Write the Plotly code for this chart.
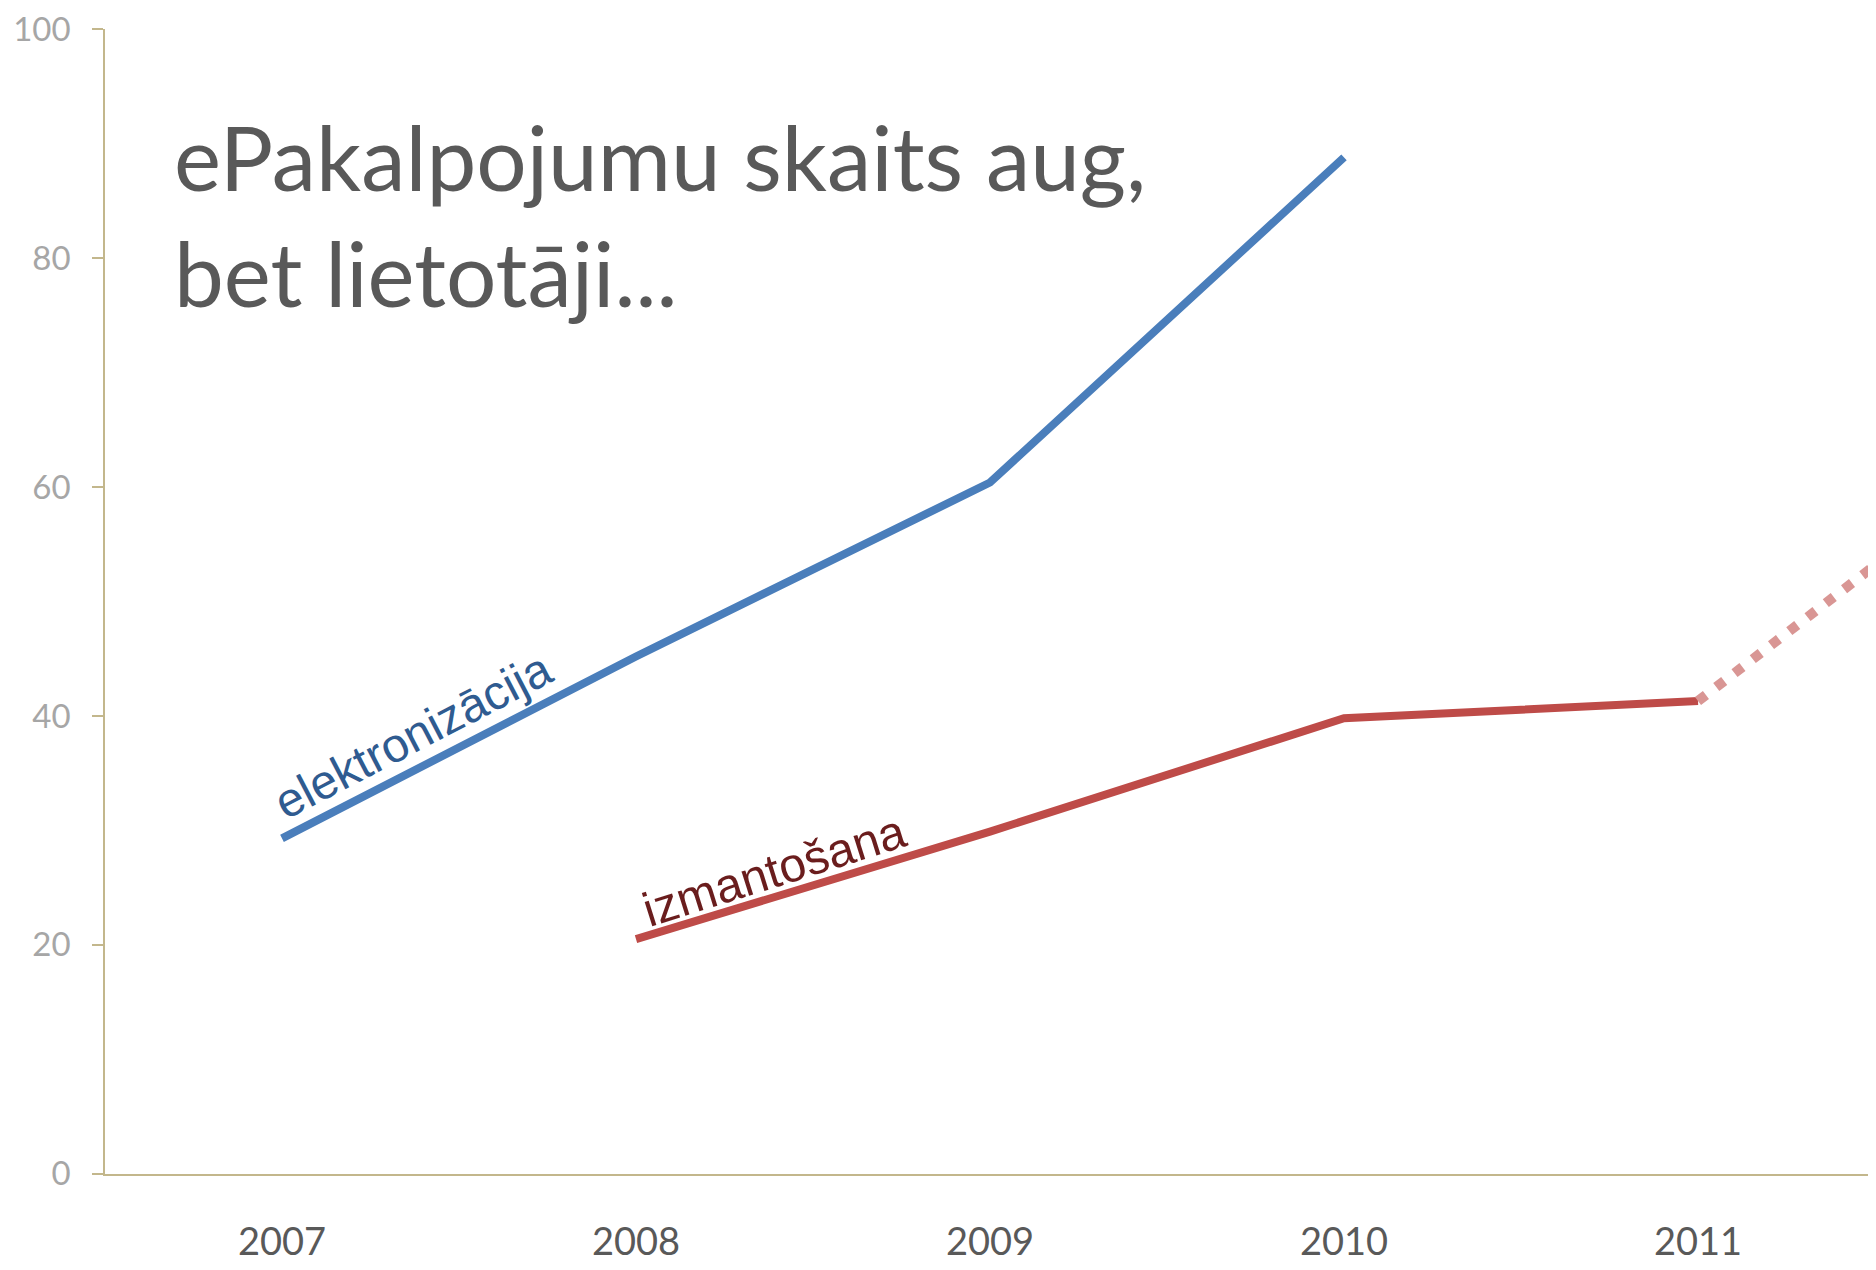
import plotly.graph_objects as go

years = [2007, 2008, 2009, 2010, 2011]
elektronizacija = [29.3, 45.2, 60.4, 88.8, None]
izmantosana = [None, 20.5, 29.9, 39.8, 41.3]
proj_years = [2011, 2012]
proj_values = [41.3, 65.0]
y_ticks = [0, 20, 40, 60, 80, 100]

title_text = "ePakalpojumu skaits aug,<br>bet lietotāji..."
label_blue = "elektronizācija"
label_red = "izmantošana"

axis_color = "#C3B78C"

fig = go.Figure()
fig.add_trace(go.Scatter(x=years, y=elektronizacija, mode="lines",
                         line=dict(color="#4A7EBB", width=8), hoverinfo="skip"))
fig.add_trace(go.Scatter(x=years, y=izmantosana, mode="lines",
                         line=dict(color="#BE4B48", width=8), hoverinfo="skip"))
fig.add_trace(go.Scatter(x=proj_years, y=proj_values, mode="lines",
                         line=dict(color="#D99694", width=10, dash="10px,13px"), hoverinfo="skip"))

fig.add_annotation(x=2006.69, y=83.8, xref="x", yref="y", text=title_text,
                   showarrow=False, xanchor="left", yanchor="middle", align="left",
                   font=dict(family="Lato", size=89, color="#595959"))
fig.add_annotation(x=2007.37, y=38.25, xref="x", yref="y", text=label_blue,
                   showarrow=False, xanchor="center", yanchor="middle", textangle=-27.5,
                   font=dict(family="Liberation Sans", size=48, color="#2F5B90"))
fig.add_annotation(x=2008.39, y=26.5, xref="x", yref="y", text=label_red,
                   showarrow=False, xanchor="center", yanchor="middle", textangle=-17.5,
                   font=dict(family="Liberation Sans", size=48, color="#6A1D1D"))

fig.update_layout(
    width=1868, height=1262,
    margin=dict(l=97, r=1, t=21, b=96),
    paper_bgcolor="white", plot_bgcolor="white",
    showlegend=False,
)
fig.update_xaxes(range=[2006.5, 2011.5], tickvals=years, ticktext=[str(y) for y in years],
                 showgrid=False, zeroline=False, showline=True, linecolor=axis_color, linewidth=1.5,
                 ticks="", ticklabelstandoff=34,
                 tickfont=dict(family="Lato", size=38, color="#595959"))
fig.update_yaxes(range=[-0.02, 100.02], tickvals=y_ticks, showgrid=False, zeroline=False,
                 showline=True, linecolor=axis_color, linewidth=1.5,
                 ticks="outside", ticklen=11, tickcolor=axis_color, tickwidth=1.5,
                 ticklabelstandoff=15, ticklabeloverflow="allow",
                 tickfont=dict(family="Lato", size=33, color="#A6A6A6"))

fig.write_html("out.html")
